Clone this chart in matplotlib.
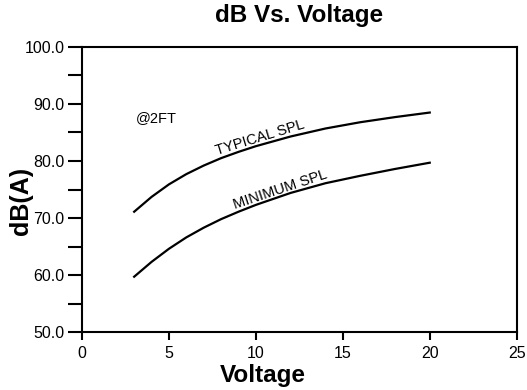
import matplotlib
matplotlib.use("Agg")
import matplotlib.pyplot as plt
from matplotlib.ticker import MultipleLocator, FormatStrFormatter

plt.rcParams['font.family'] = ['Liberation Sans', 'DejaVu Sans']

# values
voltage = [3, 4, 5, 6, 7, 8, 9, 10, 12, 14, 16, 18, 20]
typical_spl = [71.1, 73.7, 75.9, 77.7, 79.2, 80.5, 81.6, 82.6, 84.3, 85.7, 86.8, 87.7, 88.5]
minimum_spl = [59.7, 62.3, 64.6, 66.6, 68.3, 69.8, 71.1, 72.3, 74.4, 76.1, 77.4, 78.6, 79.7]

fig = plt.figure(figsize=(5.27, 3.9), dpi=100)
ax = fig.add_axes([0.1556, 0.1487, 0.8248, 0.7308])

ax.plot(voltage, typical_spl, color="black", linewidth=1.6)
ax.plot(voltage, minimum_spl, color="black", linewidth=1.6)

ax.text(10.25, 84.1, "TYPICAL SPL", rotation=17, ha="center", va="center", fontsize=10.5)
ax.text(11.4, 75.0, "MINIMUM SPL", rotation=18.5, ha="center", va="center", fontsize=10.5)
ax.text(3.1, 87.5, "@2FT", ha="left", va="center", fontsize=10.5)

ax.set_xlim(0, 25)
ax.set_ylim(50, 100)
ax.xaxis.set_major_locator(MultipleLocator(5))
ax.yaxis.set_major_locator(MultipleLocator(10))
ax.yaxis.set_minor_locator(MultipleLocator(5))
ax.yaxis.set_major_formatter(FormatStrFormatter("%.1f"))

ax.tick_params(axis="y", which="both", direction="out", length=10, width=1.5, labelsize=11.5, pad=2.5)
ax.tick_params(axis="x", which="major", direction="out", length=6, width=1.5, labelsize=11.5, pad=4)
for s in ax.spines.values():
    s.set_linewidth(1.5)

ax.set_title("dB Vs. Voltage", fontsize=17.5, fontweight="bold", pad=18)
# axis labels sit off-centre in the reference
fig.text(262.5 / 527, 1 - 382 / 390, "Voltage", fontsize=17.5, fontweight="bold", ha="center", va="baseline")
fig.text(21.5 / 527, 1 - 200.5 / 390, "dB(A)", fontsize=18, fontweight="bold", rotation=90, ha="center", va="center")

fig.savefig("out.png", dpi=100)
